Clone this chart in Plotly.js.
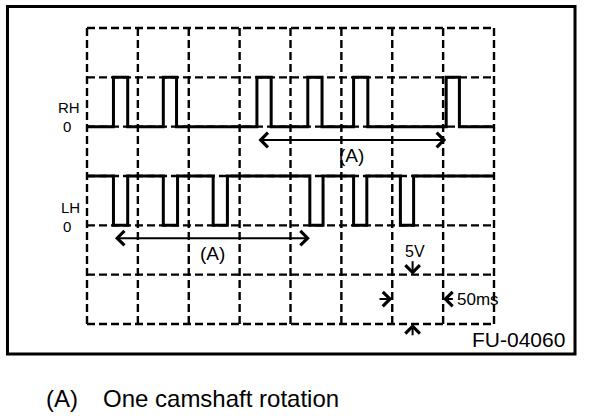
<!DOCTYPE html>
<html>
<head>
<meta charset="utf-8">
<script src="https://cdn.plot.ly/plotly-3.0.1.min.js"></script>
<style>html,body{margin:0;padding:0;background:#fff;}#chart{width:608px;height:416px;}</style>
</head>
<body>
<div id="chart"></div>
<script>
// ---- data (time in ms, 50 ms/div; voltage in V, 5 V/div) ----
const timeTicks = [0, 50, 100, 150, 200, 250, 300, 350, 400];
const voltTicks = [0, 5, 10, 15, 20, 25, 30];
const rhZeroLevel = 20;   // display level of RH "0"
const lhZeroLevel = 10;   // display level of LH "0"
const signalHigh = 5;     // 5 V pulse amplitude
const rhPulseStart = [26, 75, 167, 217, 262, 353];
const rhPulseEnd   = [40, 88, 181, 231, 276, 366];
const lhPulseStart = [26, 75, 124, 219, 262, 308];
const lhPulseEnd   = [40, 89, 138, 232, 275, 321];
const rhRotation = [167, 353];   // (A) one camshaft rotation, RH
const lhRotation = [26, 219];    // (A) one camshaft rotation, LH
const channelLabels = ['RH', 'LH'];
const zeroLabel = '0';
const rotationLabel = '(A)';
const captionKey = '(A)';
const captionText = 'One camshaft rotation';
const figureId = 'FU-04060';
const voltDivLabel = '5V';
const timeDivLabel = '50ms';

function waveform(starts, ends, idle, active, t0, t1) {
  const x = [t0], y = [idle];
  for (let i = 0; i < starts.length; i++) {
    x.push(starts[i], starts[i], ends[i], ends[i]);
    y.push(idle, active, active, idle);
  }
  x.push(t1); y.push(idle);
  return {x, y};
}

const tMin = timeTicks[0], tMax = timeTicks[timeTicks.length - 1];
const vMin = voltTicks[0], vMax = voltTicks[voltTicks.length - 1];

const rh = waveform(rhPulseStart, rhPulseEnd, rhZeroLevel, rhZeroLevel + signalHigh, tMin, tMax);
const lh = waveform(lhPulseStart, lhPulseEnd, lhZeroLevel + signalHigh, lhZeroLevel, tMin, tMax);

const sigLine = {color: '#000', width: 3};
const traces = [
  {x: rh.x, y: rh.y, type: 'scatter', mode: 'lines', line: sigLine, hoverinfo: 'skip', name: 'RH'},
  {x: lh.x, y: lh.y, type: 'scatter', mode: 'lines', line: sigLine, hoverinfo: 'skip', name: 'LH'}
];

const gridLine = {color: '#000', width: 2.4, dash: '8px,4px'};
const shapes = [];
timeTicks.forEach(t => shapes.push({type: 'line', xref: 'x', yref: 'y', x0: t, x1: t, y0: vMin, y1: vMax, line: gridLine, layer: 'below'}));
voltTicks.forEach(v => shapes.push({type: 'line', xref: 'x', yref: 'y', x0: tMin, x1: tMax, y0: v, y1: v, line: gridLine, layer: 'below'}));
// outer frame
shapes.push({type: 'rect', xref: 'paper', yref: 'paper', x0: -0.1787, x1: 1.1823, y0: -0.0817, y1: 1.0539,
  line: {color: '#000', width: 3}, fillcolor: 'rgba(0,0,0,0)'});

const F = 'Liberation Sans, Arial, Helvetica, sans-serif';
function txt(text, x, y, size, xanchor, extra) {
  return Object.assign({text, x, y, xref: 'x', yref: 'y', showarrow: false, xanchor: xanchor || 'center', yanchor: 'middle',
    font: {family: F, size, color: '#000'}}, extra || {});
}
function arrow(x, y, ax, ay, side, size) {
  const s = size || 1;
  return {text: '', x, y, ax, ay, xref: 'x', yref: 'y', axref: 'x', ayref: 'y', showarrow: true,
    arrowhead: 4, startarrowhead: 4, arrowside: side || 'end', arrowsize: s, startarrowsize: s, arrowwidth: 2, arrowcolor: '#000', standoff: 0, startstandoff: 0};
}

const annotations = [
  txt(channelLabels[0], -4.9, 21.94, 15, 'right'),
  txt(zeroLabel, -0.0348, rhZeroLevel, 15, 'center', {xref: 'paper'}),
  txt(channelLabels[1], -4.9, 11.85, 15, 'right'),
  txt(zeroLabel, -0.0348, lhZeroLevel - 0.1, 15, 'center', {xref: 'paper'}),
  arrow(rhRotation[1], 18.65, rhRotation[0], 18.65, 'end+start', 1.4),
  txt(rotationLabel, 259.5, 17.1, 19, 'center'),
  arrow(lhRotation[1], 8.7, lhRotation[0], 8.7, 'end+start', 1.4),
  txt(rotationLabel, 122.9, 7.1, 19, 'center'),
  txt(voltDivLabel, 322, 7.3, 16, 'center'),
  arrow(320, 5, 320, 6.5, 'end', 1.4),
  arrow(320, 0, 320, -1.3, 'end', 1.4),
  arrow(300, 2.53, 286, 2.53, 'end', 1.4),
  arrow(350, 2.53, 361, 2.53, 'end', 1.4),
  txt(timeDivLabel, 362, 2.53, 17, 'left'),
  {text: figureId, x: 1.1631, y: -0.0327, xref: 'paper', yref: 'paper', showarrow: false, xanchor: 'right', yanchor: 'middle',
    font: {family: F, size: 21, color: '#000'}},
  {text: captionKey, x: -0.0900, y: -0.2255, xref: 'paper', yref: 'paper', showarrow: false, xanchor: 'left', yanchor: 'middle',
    font: {family: F, size: 24, color: '#000'}},
  {text: captionText, x: 0.0460, y: -0.2255, xref: 'paper', yref: 'paper', showarrow: false, xanchor: 'left', yanchor: 'middle',
    font: {family: F, size: 24, color: '#000'}}
];

const padT = 4.914, padV = 0.507;
const layout = {
  width: 608, height: 416,
  margin: {l: 82, r: 109, t: 23, b: 87, pad: 0},
  paper_bgcolor: '#fff', plot_bgcolor: '#fff',
  showlegend: false,
  xaxis: {range: [tMin - padT, tMax + padT], showgrid: false, zeroline: false, showline: false, showticklabels: false, ticks: '', fixedrange: true},
  yaxis: {range: [vMin - padV, vMax + padV], showgrid: false, zeroline: false, showline: false, showticklabels: false, ticks: '', fixedrange: true},
  shapes, annotations
};

Plotly.newPlot('chart', traces, layout, {staticPlot: true, displayModeBar: false});
</script>
</body>
</html>
